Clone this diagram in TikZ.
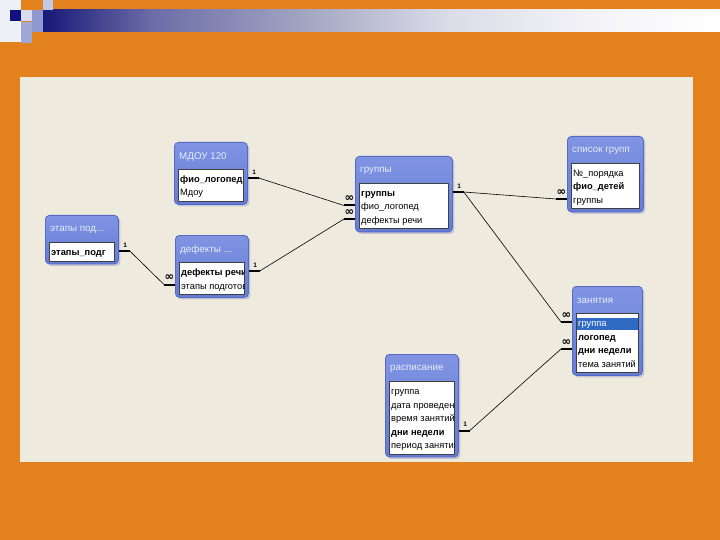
\documentclass[tikz,border=0pt]{standalone}
\usepackage{fontspec}
\setmainfont{Liberation Sans}
\newfontfamily\symf{DejaVu Sans}
\usetikzlibrary{calc,shadows}
\definecolor{orng}{RGB}{227,130,28}
\definecolor{panel}{RGB}{238,235,222}
\definecolor{navy}{RGB}{24,24,120}
\definecolor{gA}{RGB}{108,108,168}
\definecolor{gB}{RGB}{160,164,192}
\definecolor{gC}{RGB}{220,220,232}
\definecolor{gD}{RGB}{244,244,248}
\definecolor{tbltop}{RGB}{128,148,226}
\definecolor{tblbot}{RGB}{100,124,212}
\definecolor{tbldraw}{RGB}{84,106,196}
\definecolor{shad}{RGB}{196,196,210}
\definecolor{hl}{RGB}{49,106,197}
\definecolor{ttltxt}{RGB}{232,236,255}
\definecolor{sqA}{RGB}{238,240,246}
\definecolor{sqB}{RGB}{16,16,128}
\definecolor{sqC}{RGB}{160,168,216}
\definecolor{sqD}{RGB}{144,152,208}
\definecolor{sqE}{RGB}{192,200,236}
\definecolor{sqF}{RGB}{216,220,240}
\pgfdeclarehorizontalshading{barsh}{100bp}{color(0bp)=(navy); color(25bp)=(navy); color(33bp)=(gA); color(44bp)=(gB); color(55bp)=(gC); color(66bp)=(gD); color(75bp)=(white); color(100bp)=(white)}
\newcommand\mktbl[6]{%
  \pgfmathsetmacro\tbBH{18.5+(#5-1)*13.5}%
  \pgfmathsetmacro\tbFH{\tbBH+30}%
  \pgfmathsetmacro\tbBW{#4-8}%
  \node[frame, minimum width=#4pt, minimum height=\tbFH pt, anchor=north west] (#1) at (#2,#3) {};
  \node[ttl] (#1-t) at ($(#1.north west)+(5,15)$) {#6};
  \node[body, minimum width=\tbBW pt, minimum height=\tbBH pt, anchor=north west] (#1-b) at ($(#1.north west)+(4,27)$) {};
}
\newcommand\fieldnode[4][fld]{%
  \node[#1] (#2-f#3) at ($(#2-b.north west)+(0.5,{11+(#3-1)*13.5})$) {#4};
}
\newcommand\rel[6]{%
  \coordinate (#5a) at ($(#1.east |- #2.center)+(0,-2)$);
  \coordinate (#5b) at ($(#5a)+(11,0)$);
  \coordinate (#5d) at ($(#3.west |- #4.center)+(0,-2)$);
  \coordinate (#5c) at ($(#5d)+(-11,0)$);
  \draw[stubl] (#5a) -- (#5b);
  \draw[rell] (#5b) -- (#5c);
  \draw[stubl] (#5c) -- (#5d);
  \ifnum#6=1 \node[onel] at ($(#5a)!0.5!(#5b)+(1,-6)$) {1};\fi
  \node[manyl] at ($(#5c)!0.5!(#5d)+(0,-6.5)$) {∞};
}
\begin{document}
\begin{tikzpicture}[x=1pt,y=-1pt,
  frame/.style={rectangle, rounded corners=4pt, draw=tbldraw, line width=0.8pt,
    top color=tbltop, bottom color=tblbot,
    drop shadow={shadow xshift=2pt, shadow yshift=-2pt, fill=shad, opacity=1}, inner sep=0pt},
  body/.style={rectangle, fill=white, draw=black!75, line width=0.6pt, inner sep=0pt},
  ttl/.style={text=ttltxt, font=\fontsize{9.8}{10}\selectfont, inner sep=0pt, anchor=west},
  fld/.style={font=\fontsize{9.3}{10}\selectfont, inner sep=1.5pt, anchor=west, text height=7pt, text depth=2pt},
  bfld/.style={fld, font=\fontsize{9.3}{10}\selectfont\bfseries},
  hfld/.style={fld, fill=hl, text=white, text width=58pt},
  stubl/.style={line width=2pt, black},
  rell/.style={line width=0.6pt, black},
  onel/.style={font=\fontsize{6.5}{6.5}\selectfont\bfseries, inner sep=0pt},
  manyl/.style={font=\symf\bfseries\fontsize{11.5}{11.5}\selectfont, inner sep=0pt}]
\useasboundingbox (0,0) rectangle (720,540);
% background
\fill[orng] (0,0) rectangle (720,540);
\fill[panel] (20,77) rectangle (693,462);
\shade[shading=barsh] (43,10) rectangle (720,32);
\fill[sqA] (0,0) rectangle (21,42);
\fill[sqB] (10,10) rectangle (21,21);
\fill[sqF] (21,10) rectangle (32,21);
\fill[sqC] (21,22) rectangle (32,43);
\fill[sqD] (32,10) rectangle (43,32);
\fill[sqE] (43,0) rectangle (53,10);
% tables
\mktbl{mdou}{174}{142}{73}{2}{МДОУ 120}
\begin{scope}
  \clip (mdou-b.north west) rectangle (mdou-b.south east);
  \fieldnode[bfld]{mdou}{1}{фио\_логопед}
  \fieldnode{mdou}{2}{Мдоу}
\end{scope}
\mktbl{grp}{355}{156}{97}{3}{группы}
\begin{scope}
  \clip (grp-b.north west) rectangle (grp-b.south east);
  \fieldnode[bfld]{grp}{1}{группы}
  \fieldnode{grp}{2}{фио\_логопед}
  \fieldnode{grp}{3}{дефекты речи}
\end{scope}
\mktbl{spis}{567}{136}{76}{3}{список групп}
\begin{scope}
  \clip (spis-b.north west) rectangle (spis-b.south east);
  \fieldnode{spis}{1}{№\_порядка}
  \fieldnode[bfld]{spis}{2}{фио\_детей}
  \fieldnode{spis}{3}{группы}
\end{scope}
\mktbl{etap}{45}{215}{73}{1}{этапы под...}
\begin{scope}
  \clip (etap-b.north west) rectangle (etap-b.south east);
  \fieldnode[bfld]{etap}{1}{этапы\_подг}
\end{scope}
\mktbl{def}{175}{235}{73}{2}{дефекты ...}
\begin{scope}
  \clip (def-b.north west) rectangle (def-b.south east);
  \fieldnode[bfld]{def}{1}{дефекты речи}
  \fieldnode{def}{2}{этапы подготов}
\end{scope}
\mktbl{zan}{572}{286}{70}{4}{занятия}
\begin{scope}
  \clip (zan-b.north west) rectangle (zan-b.south east);
  \fieldnode[hfld]{zan}{1}{группа}
  \fieldnode[bfld]{zan}{2}{логопед}
  \fieldnode[bfld]{zan}{3}{дни недели}
  \fieldnode{zan}{4}{тема занятий}
\end{scope}
\mktbl{ras}{385}{354}{73}{5}{расписание}
\begin{scope}
  \clip (ras-b.north west) rectangle (ras-b.south east);
  \fieldnode{ras}{1}{группа}
  \fieldnode{ras}{2}{дата проведени}
  \fieldnode{ras}{3}{время занятий}
  \fieldnode[bfld]{ras}{4}{дни недели}
  \fieldnode{ras}{5}{период занятий}
\end{scope}
% relations
\rel{mdou}{mdou-f1}{grp}{grp-f2}{r1}{1}
\rel{def}{def-f1}{grp}{grp-f3}{r2}{1}
\rel{etap}{etap-f1}{def}{def-f2}{r3}{1}
\rel{grp}{grp-f1}{spis}{spis-f3}{r4}{1}
\rel{grp}{grp-f1}{zan}{zan-f1}{r5}{0}
\rel{ras}{ras-f4}{zan}{zan-f3}{r6}{1}
\end{tikzpicture}
\end{document}
